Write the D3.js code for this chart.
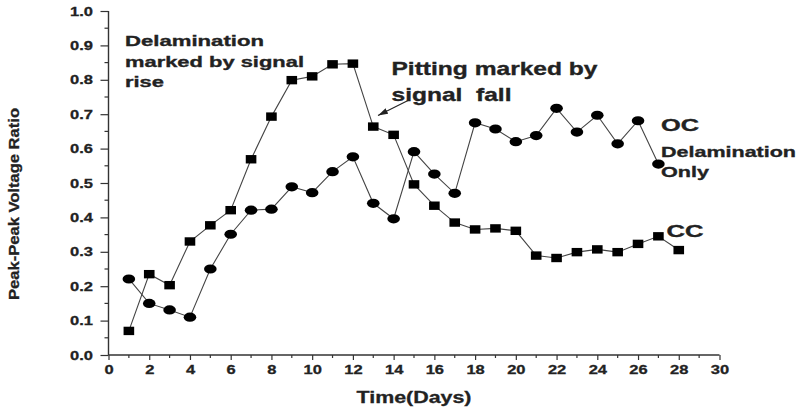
<!DOCTYPE html>
<html>
<head>
<meta charset="utf-8">
<script src="https://cdn.jsdelivr.net/npm/d3@7"></script>
<style>
  html, body { margin: 0; padding: 0; background: #fff; }
  svg { display: block; }
  text { font-family: Arial, "Liberation Sans", sans-serif; font-weight: bold; fill: #222; }
</style>
</head>
<body>
<svg id="chart" width="801" height="408"></svg>
<script>
// ---- data ----
const days = [1,2,3,4,5,6,7,8,9,10,11,12,13,14,15,16,17,18,19,20,21,22,23,24,25,26,27,28];
const ccValues = [0.070,0.235,0.203,0.330,0.377,0.421,0.569,0.693,0.799,0.810,0.845,0.847,0.664,0.640,0.496,0.434,0.385,0.365,0.368,0.361,0.289,0.282,0.299,0.307,0.299,0.323,0.345,0.305];
const ocDays = [1,2,3,4,5,6,7,8,9,10,11,12,13,14,15,16,17,18,19,20,21,22,23,24,25,26,27];
const ocValues = [0.221,0.150,0.131,0.110,0.250,0.351,0.421,0.424,0.489,0.472,0.533,0.576,0.441,0.396,0.591,0.526,0.470,0.675,0.657,0.620,0.638,0.717,0.648,0.697,0.614,0.681,0.555];
const xTicks = [0,2,4,6,8,10,12,14,16,18,20,22,24,26,28,30];
const yTicks = [0.0,0.1,0.2,0.3,0.4,0.5,0.6,0.7,0.8,0.9,1.0];
const xTitle = "Time(Days)";
const yTitle = "Peak-Peak Voltage Ratio";

const svg = d3.select("#chart");
const x = d3.scaleLinear().domain([0, 30]).range([108.5, 719.5]);
const y = d3.scaleLinear().domain([0, 1]).range([355, 11]);
const SX = 1.27; // horizontal stretch of the original artwork

// ---- axes ----
const xMinor = d3.range(1, 30, 2);
const yMinor = d3.range(0.05, 1, 0.1);

const gx = svg.append("g").attr("transform", `translate(0,${y(0)})`);
gx.call(d3.axisBottom(x).tickValues(xTicks).tickSize(5).tickPadding(5).tickFormat(d3.format("d")));
gx.selectAll(".minor").data(xMinor).enter().append("line")
  .attr("class", "minor").attr("x1", d => x(d)).attr("x2", d => x(d))
  .attr("y1", 0).attr("y2", 3).attr("stroke", "#333").attr("stroke-width", 1.2);
gx.select(".domain").attr("d", `M${x(0)},0H${x(30)}`);

const gy = svg.append("g").attr("transform", `translate(${x(0)},0)`);
gy.call(d3.axisLeft(y).tickValues(yTicks).tickSize(8).tickPadding(7).tickFormat(d3.format(".1f")));
gy.selectAll(".minor").data(yMinor).enter().append("line")
  .attr("class", "minor").attr("y1", d => y(d)).attr("y2", d => y(d))
  .attr("x1", 0).attr("x2", -4).attr("stroke", "#333").attr("stroke-width", 1.2);
gy.select(".domain").attr("d", `M0,${y(0)}V${y(1)}`);

[gx, gy].forEach(g => {
  g.selectAll(".domain").attr("stroke", "#333").attr("stroke-width", 1.4);
  g.selectAll(".tick line").attr("stroke", "#333").attr("stroke-width", 1.2);
  g.selectAll("text").attr("font-size", 13).attr("font-family", "Arial, 'Liberation Sans', sans-serif")
    .attr("font-weight", "bold").attr("fill", "#222")
    .attr("stroke", "#222").attr("stroke-width", 0.3);
});
gx.selectAll(".tick text").attr("transform", `scale(${SX},1)`).attr("dy", "0.71em").attr("y", 10);
gy.selectAll(".tick text").each(function() {
  d3.select(this).attr("x", -15.5 / SX).attr("transform", `scale(${SX},1)`);
});

// ---- axis titles ----
svg.append("text").attr("x", (x(0) + x(30)) / 2).attr("y", 402.5)
  .attr("text-anchor", "middle").attr("font-size", 16.5)
  .attr("stroke", "#222").attr("stroke-width", 0.3)
  .attr("textLength", 115).attr("lengthAdjust", "spacingAndGlyphs").text(xTitle);
svg.append("text").attr("transform", `translate(18.5,${(108 + 300) / 2}) rotate(-90)`)
  .attr("text-anchor", "middle").attr("font-size", 15.5)
  .attr("stroke", "#222").attr("stroke-width", 0.3)
  .attr("textLength", 192).attr("lengthAdjust", "spacingAndGlyphs").text(yTitle);

// ---- series ----
const cc = days.map((d, i) => [d, ccValues[i]]);
const oc = ocDays.map((d, i) => [d, ocValues[i]]);
const line = d3.line().x(d => x(d[0])).y(d => y(d[1]));

[cc, oc].forEach(s => {
  svg.append("path").datum(s).attr("d", line)
    .attr("fill", "none").attr("stroke", "#444").attr("stroke-width", 1.1);
});

svg.append("g").selectAll("ellipse").data(oc).enter().append("ellipse")
  .attr("cx", d => x(d[0])).attr("cy", d => y(d[1]))
  .attr("rx", 6.3).attr("ry", 4.6).attr("fill", "#000");
svg.append("g").selectAll("rect").data(cc).enter().append("rect")
  .attr("x", d => x(d[0]) - 5.3).attr("y", d => y(d[1]) - 4.2)
  .attr("width", 10.6).attr("height", 8.4).attr("fill", "#000");

// ---- annotations ----
const notes = [
  { t: "Delamination", x: 125, y: 46, w: 139, s: 15.5 },
  { t: "marked by signal", x: 125, y: 66.7, w: 179, s: 15.5 },
  { t: "rise", x: 125, y: 87.3, w: 39, s: 15.5 },
  { t: "Pitting marked by", x: 391.5, y: 75, w: 206, s: 18.5 },
  { t: "signal\u00a0 fall", x: 391.5, y: 100.7, w: 120, s: 18.5 },
  { t: "OC", x: 661, y: 131, w: 38, s: 16 },
  { t: "Delamination", x: 661, y: 156.7, w: 135, s: 15.5 },
  { t: "Only", x: 661, y: 176.7, w: 48, s: 15.5 },
  { t: "CC", x: 666.5, y: 237, w: 37, s: 16.5 }
];
svg.append("g").selectAll("text").data(notes).enter().append("text")
  .attr("x", d => d.x).attr("y", d => d.y).attr("font-size", d => d.s)
  .attr("stroke", "#222").attr("stroke-width", 0.35)
  .attr("textLength", d => d.w).attr("lengthAdjust", "spacingAndGlyphs")
  .text(d => d.t);

// arrow
svg.append("defs").append("marker").attr("id", "ah")
  .attr("viewBox", "0 0 10 6").attr("refX", 10).attr("refY", 3)
  .attr("markerWidth", 10).attr("markerHeight", 6).attr("markerUnits", "userSpaceOnUse")
  .attr("orient", "auto")
  .append("path").attr("d", "M0,0L10,3L0,6Z").attr("fill", "#222");
svg.append("line").attr("x1", 409).attr("y1", 100).attr("x2", 378).attr("y2", 115.5)
  .attr("stroke", "#222").attr("stroke-width", 1.1).attr("marker-end", "url(#ah)");
</script>
</body>
</html>
